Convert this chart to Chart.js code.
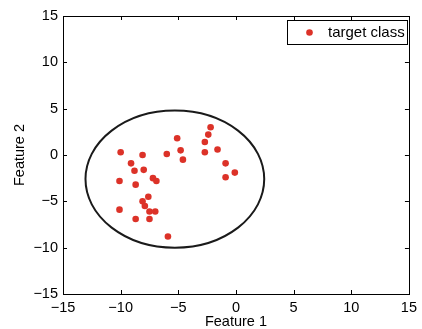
<!DOCTYPE html>
<html><head><meta charset="utf-8">
<script src="https://cdn.jsdelivr.net/npm/chart.js@4/dist/chart.umd.min.js"></script>
<style>html,body{margin:0;padding:0;background:#fff;overflow:hidden}#wrap{width:422px;height:329px}</style>
</head><body><div id="wrap"><canvas id="c" width="422" height="329"></canvas></div>
<script>
const featureX = [-10.0, -8.1, -9.1, -8.8, -8.0, -10.1, -8.7, -7.2, -6.9, -7.6, -8.1, -7.9, -10.1, -7.5, -7.0, -8.7, -7.5, -5.9, -6.0, -5.1, -4.8, -4.6, -2.2, -2.4, -2.7, -2.7, -1.6, -0.9, -0.1, -0.9];
const featureY = [0.3, 0.0, -0.9, -1.7, -1.6, -2.8, -3.2, -2.5, -2.8, -4.5, -5.0, -5.5, -5.9, -6.1, -6.1, -6.9, -6.9, -8.8, 0.1, 1.8, 0.5, -0.5, 3.0, 2.2, 1.4, 0.3, 0.6, -0.9, -1.9, -2.4];
const tickValues = [-15, -10, -5, 0, 5, 10, 15];
const seriesName = 'target class';
const xTitle = 'Feature 1';
const yTitle = 'Feature 2';
const ellipseCenter = [-5.3, -2.6];
const ellipseRadii = [7.75, 7.4];

const FONT = 'Liberation Sans, Arial, Helvetica, sans-serif';
const RED = '#dc3228';
const fmt = v => v < 0 ? '\u2212' + Math.abs(v) : String(v);

const points = featureX.map((x, i) => ({x: x, y: featureY[i]}));

const framePlugin = {
  id: 'frame',
  beforeDatasetsDraw(chart) {
    const {ctx, scales: {x, y}} = chart;
    const cx = x.getPixelForValue(ellipseCenter[0]);
    const cy = y.getPixelForValue(ellipseCenter[1]);
    const rx = Math.abs(x.getPixelForValue(ellipseCenter[0] + ellipseRadii[0]) - cx);
    const ry = Math.abs(y.getPixelForValue(ellipseCenter[1] + ellipseRadii[1]) - cy);
    ctx.save();
    ctx.strokeStyle = '#1a1a1a';
    ctx.lineWidth = 2;
    ctx.beginPath();
    ctx.ellipse(cx, cy, rx, ry, 0, 0, Math.PI * 2);
    ctx.stroke();
    ctx.restore();
  },
  afterDraw(chart) {
    const {ctx, chartArea: a, scales: {x, y}} = chart;
    ctx.save();
    ctx.strokeStyle = '#000';
    ctx.lineWidth = 1;
    ctx.strokeRect(Math.round(a.left) + 0.5, Math.round(a.top) + 0.5, Math.round(a.right - a.left), Math.round(a.bottom - a.top));
    ctx.beginPath();
    const tl = 4;
    tickValues.forEach(v => {
      const px = Math.round(x.getPixelForValue(v)) + 0.5;
      ctx.moveTo(px, a.bottom); ctx.lineTo(px, a.bottom - tl);
      ctx.moveTo(px, a.top); ctx.lineTo(px, a.top + tl);
      const py = Math.round(y.getPixelForValue(v)) + 0.5;
      ctx.moveTo(a.left, py); ctx.lineTo(a.left + tl, py);
      ctx.moveTo(a.right, py); ctx.lineTo(a.right - tl, py);
    });
    ctx.stroke();
    // legend
    const bx = 287.5, by = 20.5, bw = 120, bh = 24;
    ctx.fillStyle = '#fff';
    ctx.fillRect(bx, by, bw, bh);
    ctx.strokeStyle = '#000';
    ctx.strokeRect(bx, by, bw, bh);
    ctx.fillStyle = RED;
    ctx.beginPath();
    ctx.arc(309.5, 32.5, 3.3, 0, Math.PI * 2);
    ctx.fill();
    ctx.fillStyle = '#000';
    ctx.font = '15px ' + FONT;
    ctx.textBaseline = 'middle';
    ctx.textAlign = 'left';
    ctx.fillText(seriesName, 328, 33);
    ctx.restore();
  }
};

new Chart(document.getElementById('c'), {
  type: 'scatter',
  data: {
    datasets: [{
      label: seriesName,
      data: points,
      backgroundColor: RED,
      borderColor: RED,
      pointRadius: 3.3,
      pointBorderWidth: 0,
      pointStyle: 'circle'
    }]
  },
  options: {
    responsive: false,
    devicePixelRatio: 1,
    animation: false,
    layout: {padding: {top: 16, right: 7, left: 0, bottom: 0}},
    plugins: {legend: {display: false}, tooltip: {enabled: false}},
    scales: {
      x: {
        type: 'linear', min: -15, max: 15,
        afterBuildTicks: s => { s.ticks = tickValues.map(v => ({value: v})); },
        afterFit: s => { s.height = 35; },
        grid: {display: false, drawTicks: false},
        border: {display: false},
        ticks: {autoSkip: false, maxRotation: 0, padding: 5, color: '#000', font: {family: FONT, size: 14.5}, callback: fmt},
        title: {display: true, text: xTitle, color: '#000', font: {family: FONT, size: 14.5, lineHeight: 1.0}, padding: {top: 0, bottom: 0}}
      },
      y: {
        type: 'linear', min: -15, max: 15,
        afterBuildTicks: s => { s.ticks = tickValues.map(v => ({value: v})); },
        afterFit: s => { s.width = 63; },
        grid: {display: false, drawTicks: false},
        border: {display: false},
        ticks: {autoSkip: false, padding: 5, color: '#000', font: {family: FONT, size: 14.5}, callback: fmt},
        title: {display: true, text: yTitle, color: '#000', font: {family: FONT, size: 14.5, lineHeight: 1.2}, padding: {top: 11, bottom: 0}}
      }
    }
  },
  plugins: [framePlugin]
});
</script>
</body></html>
